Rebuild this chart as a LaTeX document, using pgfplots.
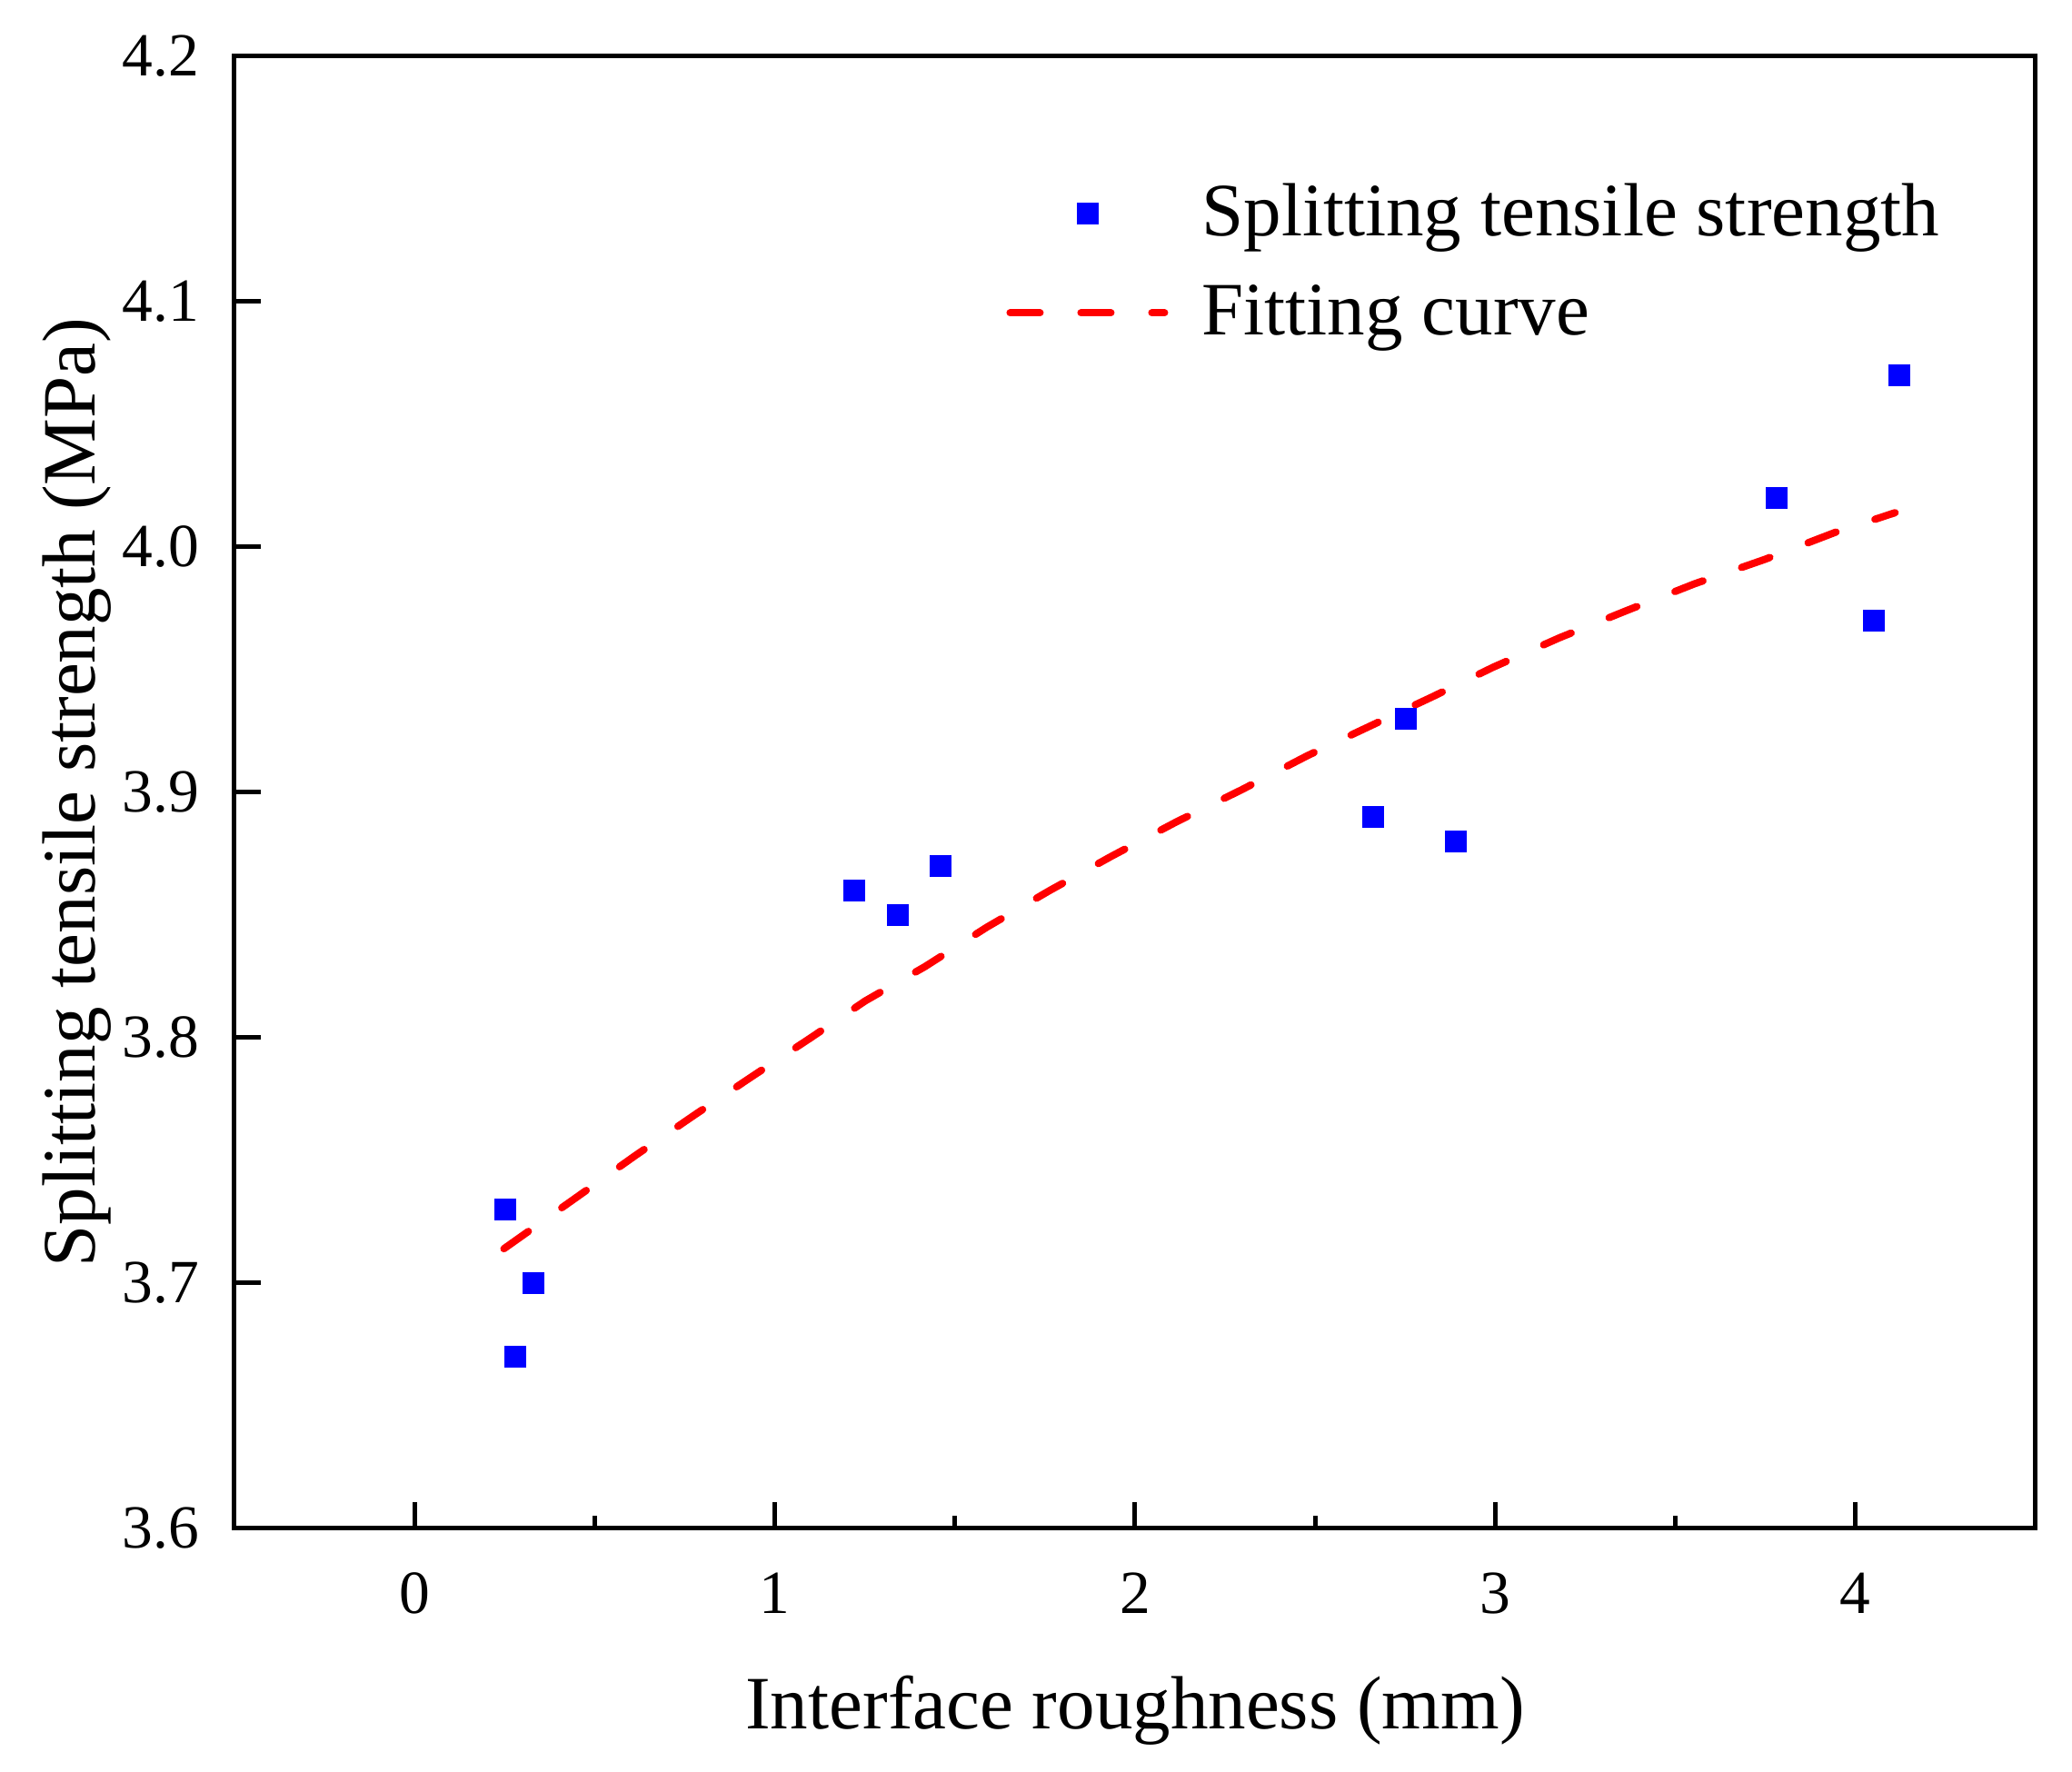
\documentclass[border=0pt]{standalone}
\usepackage{fontspec}
\setmainfont{Liberation Serif}
\usepackage{pgfplots}
\pgfplotsset{compat=1.18}
\pgfplotsset{
  sqlegend/.style={legend image code/.code={\draw[mark repeat=2,mark phase=2,##1] plot coordinates {(0pt,0pt)(17pt,0pt)(34pt,0pt)};}},
  lnlegend/.style={legend image code/.code={\draw[##1] (0pt,0pt) -- (34pt,0pt);}},
}
\begin{document}
\begin{tikzpicture}
\useasboundingbox (-51.6pt,-53.6pt) rectangle (404.4pt,336.4pt);
\begin{axis}[
  scale only axis, width=396.4pt, height=324pt,
  at={(0pt,0pt)}, anchor=south west,
  xmin=-0.5, xmax=4.5, ymin=3.6, ymax=4.2,
  xtick={0,1,2,3,4}, minor xtick={0.5,1.5,2.5,3.5},
  ytick={3.6,3.7,3.8,3.9,4.0,4.1,4.2},
  tick align=inside, tick pos=left,
  major tick length=5.8pt, minor tick length=2.7pt,
  tick style={line width=1pt, black},
  axis line style={line width=1pt},
  /pgf/number format/assume math mode=true,
  xticklabel style={font=\fontsize{13.5}{16}\selectfont, inner sep=0pt, yshift=-9.6pt},
  yticklabel style={font=\fontsize{13.5}{16}\selectfont, inner sep=0pt, xshift=-7.6pt,
    /pgf/number format/.cd, fixed, fixed zerofill, precision=1},
  xlabel={Interface roughness (mm)},
  ylabel={Splitting tensile strength (MPa)},
  label style={font=\fontsize{16.6}{20}\selectfont},
  xlabel style={at={(axis description cs:0.5,-0.1235)}, anchor=center},
  ylabel style={at={(axis description cs:-0.0875,0.5)}, anchor=center},
  legend style={at={(axis description cs:0.4281,0.860)}, anchor=west, draw=none, fill=none,
    inner sep=0pt, row sep=9.2pt, column sep=7.4pt,
    font=\fontsize{16.6}{20}\selectfont, nodes={inner sep=0pt}},
  legend cell align=left,
]
\addplot[only marks, mark=square*, mark size=2.3pt, color=blue,
  mark options={fill=blue, draw=blue, line width=0.1pt}, sqlegend]
coordinates {
(0.25,3.73) (0.28,3.67) (0.33,3.70)
(1.22,3.86) (1.34,3.85) (1.46,3.87)
(2.66,3.89) (2.75,3.93) (2.89,3.88)
(3.78,4.02) (4.05,3.97) (4.12,4.07)
};
\addlegendentry{Splitting tensile strength}
\addplot[red, line width=1.6pt, dash pattern=on 6.6pt off 9pt, line cap=round, mark=none, lnlegend]
coordinates {
(0.248,3.714) (0.450,3.735) (0.613,3.752) (0.782,3.769) (0.945,3.785)
(1.100,3.800) (1.251,3.815) (1.417,3.829) (1.588,3.845) (1.763,3.860)
(1.935,3.874) (2.115,3.888) (2.295,3.901) (2.479,3.915) (2.652,3.927)
(2.826,3.939) (2.994,3.951) (3.178,3.963) (3.363,3.974) (3.553,3.985)
(3.749,3.995) (3.944,4.006) (4.110,4.014)
};
\addlegendentry{Fitting curve}
\end{axis}
\end{tikzpicture}
\end{document}
